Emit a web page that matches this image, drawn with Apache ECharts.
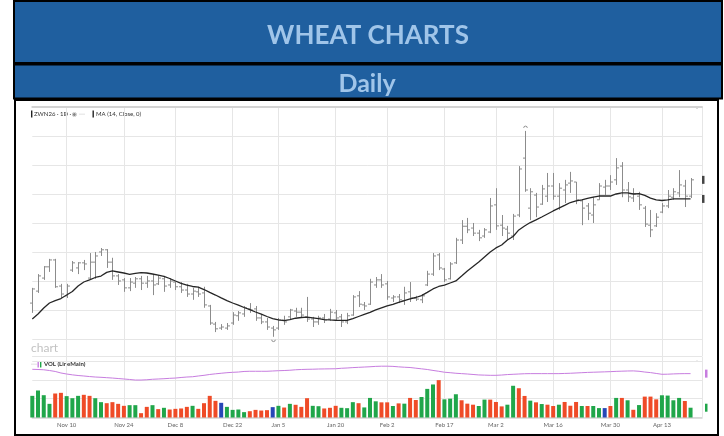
<!DOCTYPE html>
<html>
<head>
<meta charset="utf-8">
<title>Wheat Charts - Daily</title>
<script src="https://cdn.jsdelivr.net/npm/echarts@6/dist/echarts.min.js"></script>
<style>
  html, body { margin: 0; padding: 0; background: #fff; }
  #chart { width: 724px; height: 436px; }
</style>
</head>
<body>
<div id="chart"></div>
<script>
// trading days, ZWN26 daily
const dates = [
  'Oct 31',
  'Nov 3', 'Nov 4', 'Nov 5', 'Nov 6', 'Nov 7', 'Nov 10', 'Nov 11', 'Nov 12', 'Nov 13', 'Nov 14',
  'Nov 17', 'Nov 18', 'Nov 19', 'Nov 20', 'Nov 21', 'Nov 24', 'Nov 25', 'Nov 26', 'Nov 28',
  'Dec 1', 'Dec 2', 'Dec 3', 'Dec 4', 'Dec 5', 'Dec 8', 'Dec 9', 'Dec 10', 'Dec 11', 'Dec 12',
  'Dec 15', 'Dec 16', 'Dec 17', 'Dec 18', 'Dec 19', 'Dec 22', 'Dec 23', 'Dec 24', 'Dec 26',
  'Dec 29', 'Dec 30', 'Dec 31',
  'Jan 2', 'Jan 5', 'Jan 6', 'Jan 7', 'Jan 8', 'Jan 9', 'Jan 12', 'Jan 13', 'Jan 14', 'Jan 15', 'Jan 16',
  'Jan 20', 'Jan 21', 'Jan 22', 'Jan 23', 'Jan 26', 'Jan 27', 'Jan 28', 'Jan 29', 'Jan 30',
  'Feb 2', 'Feb 3', 'Feb 4', 'Feb 5', 'Feb 6', 'Feb 9', 'Feb 10', 'Feb 11', 'Feb 12', 'Feb 13',
  'Feb 17', 'Feb 18', 'Feb 19', 'Feb 20', 'Feb 23', 'Feb 24', 'Feb 25', 'Feb 26', 'Feb 27',
  'Mar 2', 'Mar 3', 'Mar 4', 'Mar 5', 'Mar 6', 'Mar 9', 'Mar 10', 'Mar 11', 'Mar 12', 'Mar 13',
  'Mar 16', 'Mar 17', 'Mar 18', 'Mar 19', 'Mar 20', 'Mar 23', 'Mar 24', 'Mar 25', 'Mar 26', 'Mar 27',
  'Mar 30', 'Mar 31', 'Apr 1', 'Apr 2', 'Apr 6', 'Apr 7', 'Apr 8', 'Apr 9', 'Apr 10',
  'Apr 13', 'Apr 14', 'Apr 15', 'Apr 16', 'Apr 17', 'Apr 20',
];
const tickLabels = ['Nov 10', 'Nov 24', 'Dec 8', 'Dec 22', 'Jan 5', 'Jan 20',
  'Feb 2', 'Feb 17', 'Mar 2', 'Mar 16', 'Mar 30', 'Apr 13'];

const open = [
  544.75, 553, 562, 569.75, 574.5, 556.5, 549.75, 567.5, 569, 572.5,
  562, 573, 580, 581.5, 573, 563.5, 560.75, 555.25, 558.5, 561.5,
  558.5, 560, 558, 561.5, 557.25, 559.25, 556, 553.75, 551, 552.5,
  551.75, 542.75, 530.25, 527.5, 527.5, 531, 536, 537.25, 540.75, 540.75,
  534.5, 531.75, 527.5, 527.5, 533, 535.25, 539.25, 538.5, 535.25, 533.75,
  531.75, 534.5, 533.75, 538, 535.25, 531.75, 536.5, 549.75, 543.5, 544,
  557.25, 560.75, 558, 548.25, 549, 546.25, 552.5, 548.25, 547, 557.25,
  564.75, 578, 568.25, 561.5, 572.5, 588.25, 597.75, 596.5, 593, 591,
  593.75, 612.5, 598.5, 595.75, 591, 605.5, 644.75, 610.25, 619.25, 613,
  618.5, 625.5, 618.5, 622.75, 627.5, 628.25, 615.25, 611.75, 605.5, 616,
  624.75, 625.5, 629.75, 639.25, 622.75, 617.25, 618.5, 610.25, 598.5, 598,
  607.5, 611.75, 617.75, 620.75, 625.5, 618.5,
];
const high = [
  555.25, 564.75, 570.25, 575.25, 575.25, 558, 558, 573.75, 573, 574.5,
  579.25, 580, 582.75, 582, 576, 564.75, 562, 562, 562.75, 563.5,
  563.5, 564.75, 564, 563.5, 562, 559.25, 559.25, 558, 555.25, 556,
  556, 543.5, 531.75, 530.25, 531, 538.5, 539.25, 542.75, 544.75, 542.75,
  537.25, 534.5, 529, 534.5, 536, 540.75, 541.5, 541.5, 549, 535.25,
  536, 537.25, 540.75, 540, 537.25, 538, 550.25, 553, 545.5, 561.5,
  562.75, 564.75, 560, 550.25, 551, 556, 559.25, 549.75, 551, 567,
  579.25, 579.25, 569, 573, 589.75, 602, 603.5, 600, 595.25, 596.5,
  617.25, 624, 605.5, 598, 606.25, 639.25, 663.5, 624, 620.75, 626.25,
  634.5, 634.5, 627.5, 629.75, 635.25, 628.25, 616, 613.75, 618, 627.5,
  629.75, 633, 644.75, 642, 628.25, 624, 621.5, 611.75, 609, 606.75,
  613.75, 622.75, 624, 636.5, 629.75, 631,
];
const low = [
  538, 551.75, 560.75, 566.25, 555.25, 548.25, 548.25, 566.25, 564.75, 567.5,
  560.75, 561.5, 577.25, 569, 560.75, 557.25, 552.5, 553, 555.25, 553.75,
  555.25, 550.25, 557.25, 552.5, 555.25, 553.75, 551.75, 549, 547, 549,
  541.5, 529.75, 524.75, 526.25, 526.25, 529.75, 532.5, 535.25, 538, 532.5,
  530.25, 526.25, 521.5, 526.25, 529.75, 533.75, 535.25, 534.5, 531.75, 528.25,
  529.75, 531, 532.5, 532.5, 528.25, 530.25, 536, 542, 540, 543.5,
  555.25, 555.25, 547, 545.5, 544.75, 543.5, 545.5, 546.25, 544.75, 556.5,
  563.5, 567.5, 559.25, 561, 571.75, 585.5, 593, 591, 587.5, 589.75,
  593, 595.25, 591, 588.25, 588.25, 604, 621.5, 602, 604, 612.5,
  614.5, 616, 609, 613.75, 620.75, 613, 598.5, 602, 600, 616,
  619.25, 622.75, 626.25, 617.75, 614.5, 614.5, 609, 597.25, 590.25, 597.25,
  606.75, 610.25, 616, 617.75, 611, 617.25,
];
const close = [
  554.5, 563.5, 569.75, 574.5, 556, 551, 556.5, 572.5, 572.5, 571.75,
  573, 577.25, 581.5, 573, 563.5, 560, 555.25, 559.25, 561.5, 558.5,
  560, 557.25, 562, 556.5, 560, 556, 553.75, 551, 553, 551,
  543.5, 531, 527, 528.25, 529, 536.5, 538, 541.5, 540, 534.5,
  531.75, 528.25, 526.25, 533, 531.75, 540, 538.5, 536.5, 533.75, 531.75,
  534.5, 533, 538.5, 534.5, 531.75, 536, 549, 544, 542.75, 559.25,
  560.75, 557.25, 549, 549, 547, 551.75, 548.25, 547.5, 549.75, 564.75,
  577.25, 569, 560.75, 571.75, 588.25, 597.75, 595.25, 593, 589.75, 595.25,
  611.75, 598, 596.5, 593, 604.75, 637.25, 622.75, 621.5, 611, 623.5,
  625.5, 618.5, 624, 626.25, 629, 616, 610.25, 606.75, 612.5, 625.5,
  625.5, 628.25, 638, 622.75, 618, 620, 612.5, 599.25, 595.25, 604,
  611.75, 618.5, 621.5, 626.25, 618.5, 629.75,
];
// MA (14, Close)
const ma14 = [
  533.8, 537.2, 541.4, 544.8, 546.5, 547.9, 550.3, 552.7, 556.5, 559.3,
  560.7, 562.4, 563.4, 565.9, 566.9, 566.2, 565.5, 564.6, 565.2, 565.7,
  565.5, 564.8, 564.1, 563.1, 561.7, 560.0, 558.3, 557.2, 556.2, 555.7,
  554.1, 552.1, 550.3, 548.3, 546.5, 544.8, 543.4, 541.7, 540.3, 538.6,
  537.2, 535.5, 534.1, 533.1, 532.6, 533.4, 534.3, 534.8, 535.0, 534.6,
  534.1, 533.4, 533.1, 532.9, 532.8, 532.8, 534.1, 535.5, 536.9, 538.3,
  540.0, 541.4, 542.8, 543.8, 545.2, 546.5, 547.6, 548.6, 549.9, 552.1,
  554.5, 556.2, 557.2, 558.6, 560.0, 563.4, 566.9, 570.0, 573.1, 576.6,
  580.0, 582.8, 584.8, 588.3, 590.7, 595.2, 597.9, 600.3, 602.1, 604.1,
  606.2, 608.3, 610.3, 612.1, 614.1, 615.2, 615.9, 616.9, 617.9, 618.6,
  618.6, 618.6, 620.0, 620.7, 620.7, 620.0, 620.3, 619.0, 617.2, 615.9,
  615.5, 615.9, 616.6, 616.6, 616.6, 616.6,
];
// volume, thousands of contracts
const volume = [
  23.0, 28.7, 23.7, 14.5, 25.5, 26.2, 22.7, 20.5, 23.0, 24.1,
  23.0, 20.5, 16.3, 15.2, 16.3, 14.5, 12.4, 13.1, 13.1, 4.6,
  11.3, 13.1, 8.9, 10.3, 8.5, 9.2, 9.6, 11.3, 12.4, 9.2,
  15.2, 23.0, 17.7, 15.6, 11.3, 8.1, 8.5, 5.7, 6.7, 8.1,
  7.4, 7.8, 11.0, 12.4, 10.6, 14.5, 13.5, 11.3, 20.5, 12.4,
  12.0, 9.6, 10.3, 12.4, 10.3, 9.9, 16.3, 15.2, 10.7, 20.8,
  17.2, 16.1, 16.1, 12.2, 15.0, 14.7, 20.8, 18.6, 21.8, 30.4,
  35.1, 39.7, 19.3, 20.0, 24.7, 18.3, 14.7, 13.6, 12.2, 19.0,
  19.0, 16.5, 11.8, 13.6, 33.7, 31.1, 22.9, 17.9, 16.1, 14.3,
  13.6, 12.2, 13.6, 16.5, 12.5, 16.5, 12.2, 12.2, 12.2, 10.0,
  10.0, 12.2, 20.8, 20.8, 18.3, 8.2, 13.2, 22.2, 22.2, 19.3,
  23.6, 23.3, 18.3, 20.8, 17.5, 10.4,
];
// u = up day, d = down day, n = unchanged
const volDir = [
  'u', 'u', 'u', 'u', 'd', 'd', 'u', 'u', 'u', 'd',
  'd', 'u', 'u', 'd', 'd', 'd', 'd', 'u', 'u', 'd',
  'd', 'u', 'd', 'u', 'd', 'd', 'd', 'd', 'u', 'd',
  'd', 'd', 'd', 'n', 'u', 'u', 'u', 'u', 'd', 'd',
  'd', 'd', 'n', 'u', 'd', 'u', 'd', 'd', 'd', 'u',
  'u', 'd', 'd', 'd', 'u', 'u', 'u', 'd', 'u', 'u',
  'u', 'd', 'd', 'u', 'd', 'u', 'd', 'd', 'u', 'u',
  'u', 'd', 'u', 'u', 'u', 'd', 'd', 'd', 'u', 'u',
  'd', 'd', 'd', 'u', 'u', 'd', 'd', 'u', 'd', 'u',
  'd', 'd', 'u', 'd', 'd', 'd', 'u', 'd', 'u', 'u',
  'n', 'd', 'u', 'd', 'u', 'd', 'u', 'd', 'd', 'd',
  'u', 'u', 'u', 'u', 'd', 'u',
];
// VOL (LineMain) line
const volLine = [
  51.2, 51.0, 50.7, 49.9, 48.9, 47.3, 46.2, 45.3, 44.6, 44.1,
  43.5, 43.0, 42.7, 42.3, 41.9, 41.4, 40.9, 40.4, 39.8, 39.8,
  40.1, 40.6, 40.9, 41.2, 41.6, 41.9, 42.5, 43.0, 43.3, 44.1,
  44.8, 45.7, 46.4, 47.0, 47.6, 48.0, 48.3, 48.9, 49.1, 49.1,
  49.1, 49.1, 49.4, 49.7, 49.9, 50.2, 50.7, 51.0, 51.2, 51.3,
  51.5, 51.6, 51.7, 51.8, 52.3, 52.6, 53.0, 53.3, 53.6, 53.9,
  54.3, 54.5, 54.5, 54.3, 53.8, 53.4, 53.1, 52.4, 51.7, 51.0,
  50.0, 49.1, 48.1, 47.6, 47.0, 46.6, 46.2, 45.7, 45.2, 45.0,
  44.8, 44.8, 45.1, 45.6, 45.9, 46.2, 46.5, 46.6, 46.6, 46.6,
  46.6, 46.6, 46.6, 46.8, 47.0, 47.3, 47.6, 47.9, 48.1, 48.3,
  48.5, 48.7, 49.0, 49.2, 49.4, 49.5, 49.1, 48.3, 47.7, 46.8,
  45.9, 46.0, 46.3, 46.5, 46.6, 46.6,
];

const dirColor = { u: '#20a64a', d: '#ef4b27', n: '#2647b6' };
const barGray = '#8c8c8c';
const gridColor = '#e6e6e6';

// two empty slots on the right like the source chart
const categories = dates.concat(['', '']);
const lastIdx = dates.length - 1;
const hiIdx = high.indexOf(Math.max(...high));
const loIdx = low.indexOf(Math.min(...low));

const ohlcData = dates.map((d, i) => [i, open[i], high[i], low[i], close[i]]);
const volData = volume.map((v, i) => ({ value: v, itemStyle: { color: dirColor[volDir[i]] } }));

function showTick(index, value) {
  return tickLabels.indexOf(value) > -1 || index === categories.length - 1;
}

function renderOhlc(params, api) {
  const i = api.value(0);
  const x = Math.round(api.coord([i, 0])[0]) + 0.5;
  const yO = api.coord([i, api.value(1)])[1];
  const yH = api.coord([i, api.value(2)])[1];
  const yL = api.coord([i, api.value(3)])[1];
  const yC = api.coord([i, api.value(4)])[1];
  const style = { stroke: barGray, lineWidth: 1 };
  const children = [
    { type: 'line', shape: { x1: x, y1: yH, x2: x, y2: yL }, style },
    { type: 'line', shape: { x1: x - 2.5, y1: yO, x2: x, y2: yO }, style },
    { type: 'line', shape: { x1: x, y1: yC, x2: x + 2.5, y2: yC }, style },
  ];
  // high / low markers of the visible range
  if (i === hiIdx) {
    children.push({ type: 'arc', shape: { cx: x, cy: yH - 3, r: 1.8, startAngle: Math.PI, endAngle: Math.PI * 2 },
      style: { stroke: '#777', fill: null, lineWidth: 0.8 } });
  }
  if (i === loIdx) {
    children.push({ type: 'arc', shape: { cx: x, cy: yL + 3, r: 1.8, startAngle: 0, endAngle: Math.PI },
      style: { stroke: '#777', fill: null, lineWidth: 0.8 } });
  }
  return { type: 'group', children };
}

// little last-value flags cut off at the right edge
function renderLastFlag(params, api) {
  const y = api.coord([api.value(0), api.value(1)])[1];
  const cs = params.coordSys;
  return {
    type: 'rect',
    shape: { x: cs.x + cs.width + api.value(3), y: y - 4, width: 2.5, height: 8 },
    style: { fill: api.value(2) === 1 ? '#c77ddf' : (api.value(2) === 2 ? dirColor.u : '#444') },
  };
}

const chart = echarts.init(document.getElementById('chart'));

chart.setOption({
  backgroundColor: '#fff',
  animation: false,
  grid: [
    { left: 32.3, top: 107, width: 669.7, height: 249 },
    { left: 32.3, top: 356.5, width: 669.7, height: 61 },
  ],
  xAxis: [
    {
      type: 'category',
      gridIndex: 0,
      data: categories,
      boundaryGap: false,
      axisLine: { show: true, lineStyle: { color: '#d3d3d3', width: 2 } },
      axisTick: { show: false },
      axisLabel: { show: false },
      splitLine: { show: true, interval: showTick, lineStyle: { color: gridColor } },
    },
    {
      type: 'category',
      gridIndex: 1,
      data: categories,
      boundaryGap: false,
      axisLine: { show: true, lineStyle: { color: '#d3d3d3', width: 1.5 } },
      axisTick: { show: false },
      axisLabel: {
        interval: (index, value) => tickLabels.indexOf(value) > -1,
        color: '#666',
        fontSize: 6,
        fontFamily: 'Lato',
        margin: 5,
      },
      splitLine: { show: true, interval: showTick, lineStyle: { color: gridColor } },
    },
  ],
  yAxis: [
    {
      // price grid lines, counted down from the top of the panel
      type: 'value',
      gridIndex: 0,
      inverse: true,
      min: 0,
      max: 249,
      interval: 29,
      axisLine: { show: false },
      axisTick: { show: false },
      axisLabel: { show: false },
      splitLine: { lineStyle: { color: gridColor } },
    },
    {
      // price scale
      type: 'value',
      gridIndex: 0,
      min: 508.25,
      max: 680,
      show: false,
      splitLine: { show: false },
    },
    {
      // volume scale
      type: 'value',
      gridIndex: 1,
      min: 0,
      max: 64.8,
      interval: 20,
      axisLine: { show: false },
      axisTick: { show: false },
      axisLabel: { show: false },
      splitLine: { lineStyle: { color: gridColor } },
    },
  ],
  series: [
    {
      name: 'ZWN26',
      type: 'custom',
      xAxisIndex: 0,
      yAxisIndex: 1,
      renderItem: renderOhlc,
      encode: { x: 0, y: [1, 2, 3, 4] },
      data: ohlcData,
      z: 3,
    },
    {
      name: 'MA (14, Close, 0)',
      type: 'line',
      xAxisIndex: 0,
      yAxisIndex: 1,
      data: ma14,
      symbol: 'none',
      lineStyle: { color: '#262626', width: 1.3 },
      z: 4,
    },
    {
      type: 'custom',
      xAxisIndex: 0,
      yAxisIndex: 1,
      renderItem: renderLastFlag,
      data: [[lastIdx, close[lastIdx], 0, 0], [lastIdx, ma14[lastIdx], 0, 0]],
      clip: false,
    },
    {
      name: 'VOL',
      type: 'bar',
      xAxisIndex: 1,
      yAxisIndex: 2,
      data: volData,
      barWidth: 4,
      clip: false,
    },
    {
      name: 'LineMain',
      type: 'line',
      xAxisIndex: 1,
      yAxisIndex: 2,
      data: volLine,
      symbol: 'none',
      lineStyle: { color: '#c77ddf', width: 1 },
      z: 4,
    },
    {
      type: 'custom',
      xAxisIndex: 1,
      yAxisIndex: 2,
      renderItem: renderLastFlag,
      data: [[lastIdx, volLine[lastIdx], 1, 3], [lastIdx, volume[lastIdx], 2, 3]],
      clip: false,
    },
  ],
  graphic: [
    // header bands
    { type: 'rect', shape: { x: 14, y: 1, width: 708, height: 62 },
      style: { fill: '#1f5f9f', stroke: '#000', lineWidth: 2 }, z: -1 },
    { type: 'rect', shape: { x: 14, y: 64.5, width: 708, height: 34 },
      style: { fill: '#1f5f9f', stroke: '#000', lineWidth: 2 }, z: -1 },
    { type: 'text', x: 368, y: 36,
      style: { text: 'WHEAT CHARTS', align: 'center', verticalAlign: 'middle',
        font: 'bold 26px Lato', fill: '#a0c5e9' } },
    { type: 'text', x: 367, y: 84,
      style: { text: 'Daily', align: 'center', verticalAlign: 'middle',
        font: 'bold 25px Lato', fill: '#a0c5e9' } },
    // chart frame
    { type: 'rect', shape: { x: 15, y: 100, width: 703, height: 335 },
      style: { fill: null, stroke: '#000', lineWidth: 2 }, z: 10 },
    // price panel legend
    { type: 'rect', shape: { x: 31, y: 110.5, width: 1.4, height: 7 }, style: { fill: '#222' } },
    { type: 'text', x: 34, y: 114,
      style: { text: 'ZWN26 · 1D ·', verticalAlign: 'middle', font: '6px Lato', fill: '#333' } },
    { type: 'text', x: 63, y: 114,
      style: { text: '×  ◉ ⋯', verticalAlign: 'middle', font: '6px DejaVu Sans', fill: '#888' } },
    { type: 'rect', shape: { x: 92.5, y: 110.5, width: 1.4, height: 7 }, style: { fill: '#222' } },
    { type: 'text', x: 96, y: 114,
      style: { text: 'MA (14, Close, 0)', verticalAlign: 'middle', font: '6px Lato', fill: '#333' } },
    { type: 'text', x: 697, y: 111,
      style: { text: '˅', align: 'center', verticalAlign: 'middle', font: '7px DejaVu Sans', fill: '#aaa' } },
    // watermark
    { type: 'text', x: 31, y: 348,
      style: { text: 'chart', verticalAlign: 'middle', font: '12px Lato', fill: '#c2c2c2' } },
    // volume panel legend
    { type: 'text', x: 31, y: 364,
      style: { text: '⋯', verticalAlign: 'middle', font: '6px DejaVu Sans', fill: '#888' } },
    { type: 'rect', shape: { x: 37.5, y: 361, width: 1.4, height: 6.5 }, style: { fill: '#c77ddf' } },
    { type: 'rect', shape: { x: 40, y: 361, width: 1.4, height: 6.5 }, style: { fill: dirColor.u } },
    { type: 'text', x: 44, y: 364.5,
      style: { text: 'VOL (LineMain)', verticalAlign: 'middle', font: 'bold 6px Lato', fill: '#333' } },
    { type: 'text', x: 697, y: 364,
      style: { text: '˄', align: 'center', verticalAlign: 'middle', font: '7px DejaVu Sans', fill: '#aaa' } },
  ],
});
</script>
</body>
</html>
